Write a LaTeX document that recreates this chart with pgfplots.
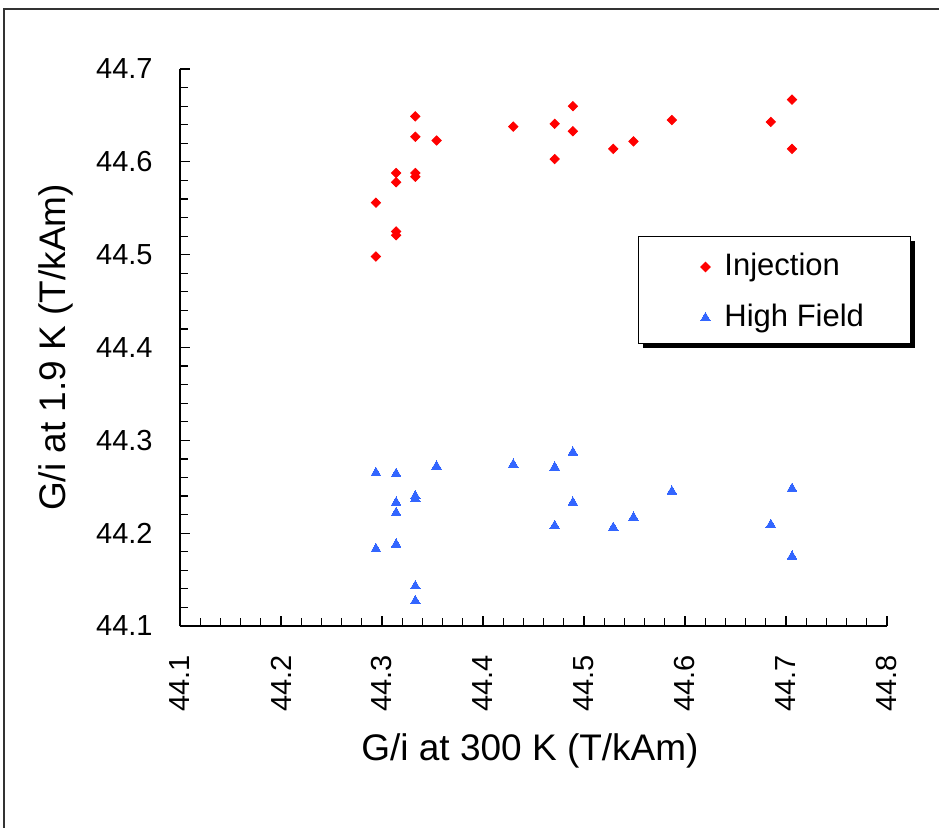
\documentclass[border=0pt]{standalone}
\usepackage{pgfplots}
\pgfplotsset{compat=1.18}
\usepackage{fontspec}
\setmainfont{Liberation Sans}
\usetikzlibrary{shadows}
\definecolor{injred}{RGB}{255,0,0}
\definecolor{hfblue}{RGB}{51,102,255}

% legend image: only the mark, with invisible room on either side
\pgfplotsset{marklegend/.style={legend image code/.code={%
  \pgfpathmoveto{\pgfpoint{-33.5pt}{0pt}}%
  \pgfpathlineto{\pgfpoint{9.5pt}{0pt}}%
  \pgfusepath{}%
  \draw[##1, draw=none, preaction={}] plot coordinates {(0pt,-1.2pt)};}}}

\pgfplotstableread{
x y
44.333 44.649
44.333 44.627
44.354 44.623
44.314 44.588
44.314 44.578
44.333 44.588
44.333 44.584
44.294 44.556
44.314 44.525
44.314 44.521
44.294 44.498
44.430 44.638
44.471 44.641
44.489 44.660
44.489 44.633
44.471 44.603
44.529 44.614
44.549 44.622
44.587 44.645
44.685 44.643
44.706 44.667
44.706 44.614
}\injection

\pgfplotstableread{
x y
44.294 44.265
44.314 44.264
44.354 44.272
44.333 44.240
44.333 44.237
44.314 44.233
44.314 44.222
44.294 44.183
44.314 44.188
44.333 44.143
44.333 44.127
44.430 44.274
44.471 44.271
44.489 44.287
44.489 44.233
44.471 44.208
44.529 44.206
44.549 44.217
44.587 44.245
44.685 44.209
44.706 44.248
44.706 44.175
}\highfield

\begin{document}
\begin{tikzpicture}[font=\fontsize{14.5}{17}\selectfont]
\useasboundingbox (-90pt,-100.5pt) rectangle (379.5pt,313pt);
\clip (-90pt,-100.5pt) rectangle (379.5pt,313pt);
% outer chart frame, cut off at right and bottom
\draw[line width=0.9pt, black!80] (-88pt,-130pt) -- (-88pt,308.5pt) -- (420pt,308.5pt);
\begin{axis}[
  scale only axis, width=353.5pt, height=278.5pt,
  at={(0,0)}, anchor=south west,
  xmin=44.1, xmax=44.8, ymin=44.1, ymax=44.7,
  xtick={44.1,44.2,...,44.8}, ytick={44.1,44.2,...,44.7},
  minor x tick num=4, minor y tick num=4,
  axis x line*=bottom, axis y line*=left,
  axis line style={-, line width=0.75pt, black},
  tick style={black, line width=0.6pt},
  major tick length=5pt, minor tick length=3.8pt,
  tick align=inside,
  /pgf/number format/.cd, fixed, precision=1, fixed zerofill, assume math mode=true,
  /pgfplots/.cd,
  yticklabel style={anchor=east, inner xsep=13.5pt},
  xticklabel style={rotate=90, anchor=east, inner xsep=14.5pt},
  xlabel={G/i at 300 K (T/kAm)},
  ylabel={G/i at 1.9 K (T/kAm)},
  label style={font=\fontsize{18.5}{22}\selectfont},
  xlabel style={at={(axis description cs:0.495,-0.225)}, anchor=center},
  ylabel style={at={(axis description cs:-0.175,0.5)}, anchor=center, rotate=0},
  legend style={at={(0.6478,0.700)}, anchor=north west,
    draw=black, line width=0.5pt, fill=white,
    inner xsep=0pt, inner ysep=7.25pt, row sep=12pt, column sep=0pt,
    font=\fontsize{15.5}{18}\selectfont,
    nodes={inner xsep=0pt, inner ysep=0pt, text height=12pt, text depth=1.5pt},
    drop shadow={shadow xshift=2.5pt, shadow yshift=-2.25pt, fill=black, opacity=1}},
  legend cell align=left,
]
\addplot[only marks, mark=square*, mark size=1.65pt, color=injred,
  mark options={rotate=45, draw=injred, fill=injred}, marklegend]
  table[x=x, y=y] {\injection};
\addlegendentry{\makebox[93pt][l]{Injection}}
\addplot[only marks, mark=triangle*, mark size=2.8pt, color=hfblue,
  mark options={draw=hfblue, fill=hfblue, line width=0pt}, marklegend]
  table[x=x, y=y] {\highfield};
\addlegendentry{\makebox[93pt][l]{High Field}}
\end{axis}
\end{tikzpicture}
\end{document}
